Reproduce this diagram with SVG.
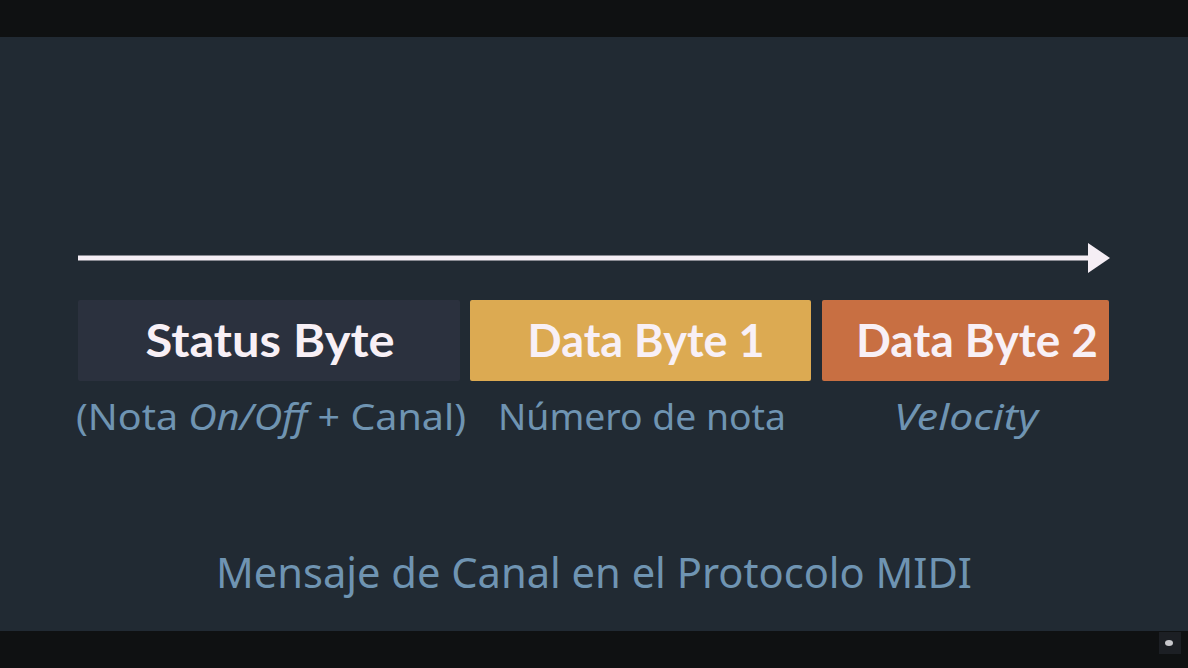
<svg xmlns="http://www.w3.org/2000/svg" width="1188" height="668" viewBox="0 0 1188 668">
<style>
.box-label{font-family:Lato,"Liberation Sans",sans-serif;font-weight:700;font-size:45px;fill:#f8f0f6;}
.sub{font-family:"Noto Sans","Open Sans",sans-serif;font-size:36px;fill:#6f94b2;}
.title{font-family:"Noto Sans","Open Sans",sans-serif;font-size:41px;fill:#6f94b2;}
</style>
<rect x="0" y="0" width="1188" height="668" fill="#0f1112"/>
<rect x="0" y="37" width="1188" height="594" fill="#212a33"/>
<g id="connectors">
  <line x1="78" y1="258" x2="1092" y2="258" stroke="#f5eef5" stroke-width="5"/>
  <polygon points="1088,243 1110,258 1088,273" fill="#f5eef5"/>
</g>
<g id="status-byte">
  <rect x="78" y="300" width="382" height="81" rx="2" fill="#2b313e"/>
  <text class="box-label" x="270" y="357" text-anchor="middle" textLength="249" lengthAdjust="spacingAndGlyphs">Status Byte</text>
  <text class="sub" x="76" y="430" textLength="390" lengthAdjust="spacingAndGlyphs">(Nota <tspan font-style="italic">On/Off</tspan> + Canal)</text>
</g>
<g id="data-byte-1">
  <rect x="470" y="300" width="341" height="81" rx="2" fill="#dcaa52"/>
  <text class="box-label" x="646" y="357" text-anchor="middle" textLength="237" lengthAdjust="spacingAndGlyphs">Data Byte 1</text>
  <text class="sub" x="498" y="430" textLength="288" lengthAdjust="spacingAndGlyphs">Número de nota</text>
</g>
<g id="data-byte-2">
  <rect x="822" y="300" width="287" height="81" rx="2" fill="#c86f42"/>
  <text class="box-label" x="977" y="357" text-anchor="middle" textLength="242" lengthAdjust="spacingAndGlyphs">Data Byte 2</text>
  <text class="sub" x="894" y="430" font-style="italic" textLength="144" lengthAdjust="spacingAndGlyphs">Velocity</text>
</g>
<g id="title">
  <text class="title" x="216" y="588" textLength="756" lengthAdjust="spacingAndGlyphs">Mensaje de Canal en el Protocolo MIDI</text>
</g>
<g id="player-icon">
  <rect x="1159" y="632" width="22" height="22" fill="#1c1f24"/>
  <ellipse cx="1169" cy="643" rx="4" ry="3" fill="#c8c8cc"/>
</g>
</svg>
